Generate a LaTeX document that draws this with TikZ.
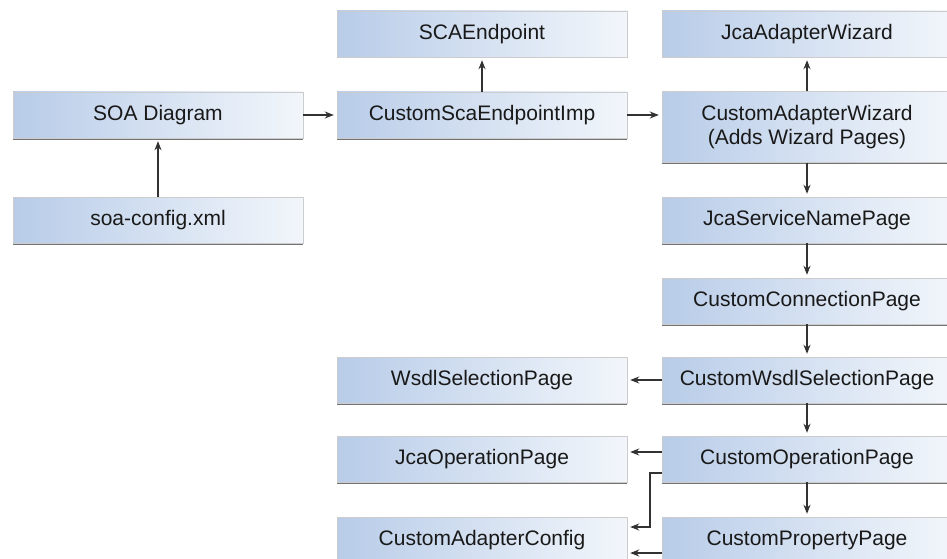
\documentclass[tikz,border=0pt]{standalone}
\usepackage{fontspec}
\setmainfont{Liberation Sans}
\usetikzlibrary{shadows}
\usetikzlibrary{positioning}
\usetikzlibrary{arrows.meta,shapes}
\usetikzlibrary{calc}
\definecolor{boxblue}{RGB}{184,204,232}
\definecolor{boxlight}{RGB}{242,246,251}
\definecolor{linegray}{RGB}{50,50,50}
\tikzstyle{classbox}=[rectangle,draw=black!20,left color=boxblue,right color=boxlight,minimum width=290pt,minimum height=46pt,inner sep=0pt,align=center,text=black!90,font=\fontsize{21}{24}\selectfont,drop shadow={shadow xshift=0pt,shadow yshift=-1.5pt,fill=black!55,opacity=1}]
\tikzstyle{edge} = [draw,line width=1.5pt,linegray,-{Stealth[length=9pt,width=7pt]},shorten >=3pt]

\begin{document}
\begin{tikzpicture}[x=1pt,y=-1pt]
    \useasboundingbox (0,0) rectangle (947,559);

    \foreach \pos/\name/\txt in {{(158,115)/soa/SOA Diagram}, {(158,220)/soaconfig/soa-config.xml},
        {(482,34)/scaend/SCAEndpoint}, {(482,115)/scaimp/CustomScaEndpointImp},
        {(807,34)/jcawiz/JcaAdapterWizard}, {(807,220)/servname/JcaServiceNamePage},
        {(807,301)/connpage/CustomConnectionPage}, {(807,380)/custwsdl/CustomWsdlSelectionPage},
        {(482,380)/wsdlsel/WsdlSelectionPage}, {(807,459)/custop/CustomOperationPage},
        {(482,459)/jcaop/JcaOperationPage}, {(807,540)/proppage/CustomPropertyPage},
        {(482,540)/adconfig/CustomAdapterConfig}}
        \node[classbox] (\name) at \pos {\txt};

    \node[classbox,minimum height=71pt] (custwiz) at (807,127) {CustomAdapterWizard\\(Adds Wizard Pages)};

    \foreach \source/\dest in {soaconfig/soa, scaimp/scaend, custwiz/jcawiz, custwiz/servname, servname/connpage,
        connpage/custwsdl, custwsdl/custop, custop/proppage, custwsdl/wsdlsel}
            \path[edge] (\source) -- (\dest);

    \path[edge] (soa) -- (scaimp);
    \path[edge] (scaimp.east) -- (scaimp.east -| custwiz.west);

    % operation page goes to both pages on the left
    \path[edge] ([yshift=7pt]custop.west) -- ([yshift=7pt]custop.west -| jcaop.east);
    \coordinate (bend) at ([xshift=-12pt,yshift=-14pt]custop.west);
    \path[edge] ([yshift=-14pt]custop.west) -- (bend) |- ([yshift=13pt]adconfig.east);
    \path[edge] ([yshift=-13pt]proppage.west) -- ([yshift=-13pt]adconfig.east);

\end{tikzpicture}
\end{document}
